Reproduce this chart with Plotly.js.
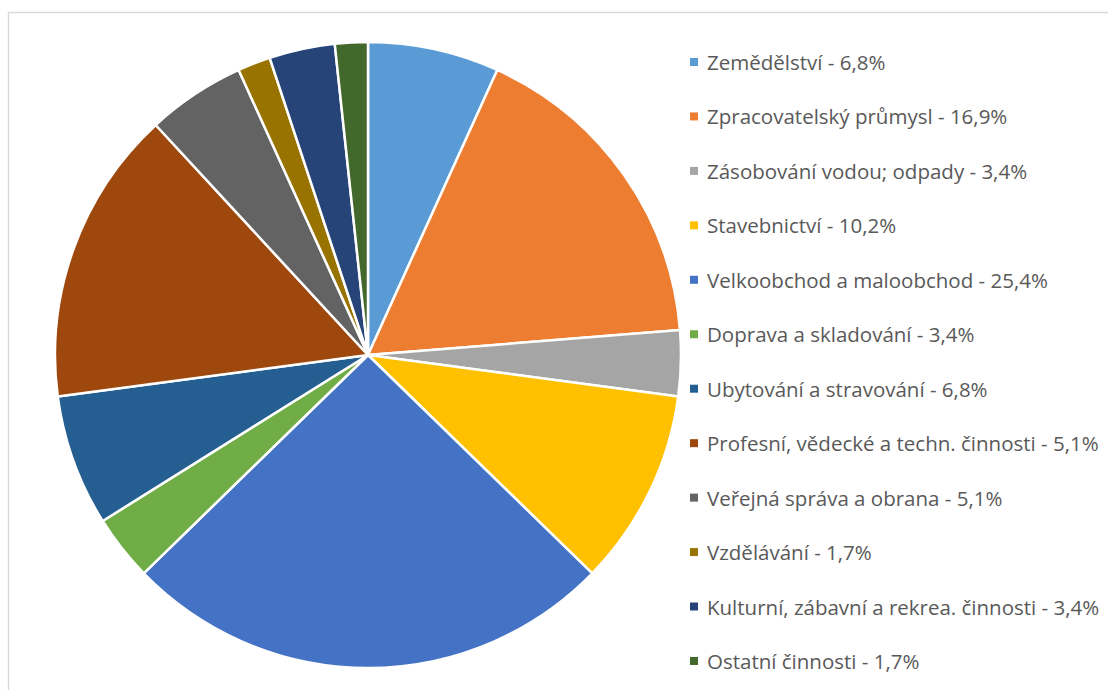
<!DOCTYPE html>
<html>
<head>
<meta charset="utf-8">
<script src="https://cdn.plot.ly/plotly-3.0.1.min.js"></script>
<style>html,body{margin:0;padding:0;background:#fff;}#chart{width:1108px;height:690px;}</style>
</head>
<body>
<div id="chart"></div>
<script>
const categories = [
  "Zemědělství - 6,8%",
  "Zpracovatelský průmysl - 16,9%",
  "Zásobování vodou; odpady - 3,4%",
  "Stavebnictví - 10,2%",
  "Velkoobchod a maloobchod - 25,4%",
  "Doprava a skladování - 3,4%",
  "Ubytování a stravování - 6,8%",
  "Profesní, vědecké a techn. činnosti - 5,1%",
  "Veřejná správa a obrana - 5,1%",
  "Vzdělávání - 1,7%",
  "Kulturní, zábavní a rekrea. činnosti - 3,4%",
  "Ostatní činnosti - 1,7%"
];
const values = [4, 10, 2, 6, 15, 2, 4, 9, 3, 1, 2, 1];
const colors = ["#5B9BD5","#ED7D31","#A5A5A5","#FFC000","#4472C4","#70AD47","#255E91","#9E480E","#636363","#997300","#264478","#43682B"];

const W = 1108, H = 690;
const cx = 368, cy = 355, r = 313;

const shapes = [{
  type: 'rect', xref: 'paper', yref: 'paper',
  x0: 8.5 / W, x1: 1.2, y0: 1 - 12.5 / H, y1: -0.2,
  line: {color: '#D9D9D9', width: 1.5}, fillcolor: 'rgba(0,0,0,0)', layer: 'below'
}];
const annotations = [];
const legTop = 62, legStep = 54.45;
categories.forEach((c, i) => {
  const yc = legTop + i * legStep;
  shapes.push({
    type: 'rect', xref: 'paper', yref: 'paper',
    x0: 690 / W, x1: 698 / W, y0: 1 - (yc - 4) / H, y1: 1 - (yc + 4) / H,
    line: {width: 0}, fillcolor: colors[i]
  });
  annotations.push({
    xref: 'paper', yref: 'paper', x: 705 / W, y: 1 - yc / H,
    xanchor: 'left', yanchor: 'middle', showarrow: false,
    text: c, font: {family: '"Open Sans", sans-serif', size: 20.5, color: '#595959'}
  });
});

const trace = {
  type: 'pie',
  labels: categories,
  values: values,
  sort: false,
  direction: 'clockwise',
  rotation: 0,
  textinfo: 'none',
  hoverinfo: 'label',
  marker: {colors: colors, line: {color: '#FFFFFF', width: 2.5}},
  domain: {x: [(cx - r) / W, (cx + r) / W], y: [1 - (cy + r) / H, 1 - (cy - r) / H]},
  showlegend: false
};

Plotly.newPlot('chart', [trace], {
  width: W, height: H,
  margin: {l: 0, r: 0, t: 0, b: 0},
  paper_bgcolor: '#FFFFFF',
  showlegend: false,
  shapes: shapes,
  annotations: annotations
}, {displayModeBar: false, staticPlot: true});
</script>
</body>
</html>
